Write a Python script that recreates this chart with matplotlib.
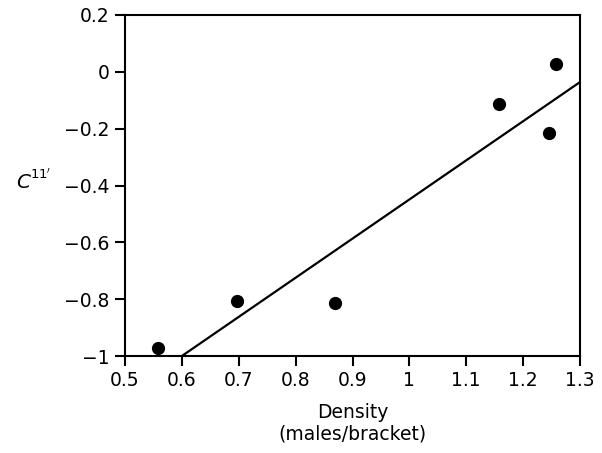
import numpy as np
import matplotlib.pyplot as plt

density = [0.558, 0.697, 0.869, 1.158, 1.245, 1.258]
c11 = [-0.972, -0.806, -0.813, -0.113, -0.215, 0.028]

fit_x = [0.6, 1.3]
fit_y = [-1.0, -0.036]

fig = plt.figure(figsize=(6.02, 4.53), dpi=100)
ax = fig.add_axes([0.2076, 0.2141, 0.7559, 0.7528])

ax.plot(density, c11, 'o', color='black', markersize=8.5)
ax.plot(fit_x, fit_y, color='black', linewidth=1.6)

ax.set_xlim(0.5, 1.3)
ax.set_ylim(-1, 0.2)
ax.set_xticks([0.5, 0.6, 0.7, 0.8, 0.9, 1.0, 1.1, 1.2, 1.3])
ax.set_xticklabels(['0.5', '0.6', '0.7', '0.8', '0.9', '1', '1.1', '1.2', '1.3'])
ax.set_yticks([0.2, 0, -0.2, -0.4, -0.6, -0.8, -1])
ax.set_yticklabels(['0.2', '0', '\u22120.2', '\u22120.4', '\u22120.6', '\u22120.8', '\u22121'])
ax.tick_params(direction='out', length=7, width=1.5, labelsize=13.5, pad=4)
for s in ax.spines.values():
    s.set_linewidth(1.5)

ax.set_xlabel("Density\n(males/bracket)", fontsize=13.5, linespacing=1.2, labelpad=9)
fig.text(0.040, 0.597, r"$C$", fontsize=14.5, ha='center', va='center')
fig.text(0.050, 0.614, r"$11^{\prime}$", fontsize=9.5, ha='left', va='center')

fig.savefig("out.png", dpi=100)
